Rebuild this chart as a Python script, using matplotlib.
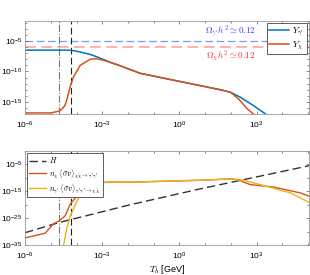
import numpy as np
import matplotlib
matplotlib.use('Agg')
import matplotlib.pyplot as plt
from matplotlib.ticker import FixedLocator, LogFormatterSciNotation, NullFormatter

plt.rcParams['mathtext.fontset'] = 'cm'
plt.rcParams['font.family'] = ['Liberation Sans', 'DejaVu Sans']

# --- top panel: yields (log10 T, log10 Y) ---
y_gp_logT = [-6.0, -5.0, -4.3, -4.1, -3.86, -3.47, -3.08, -2.69, -2.30, -1.53,
             -0.03, 1.59, 1.98, 2.36, 2.88, 3.34]
y_gp_logY = [-6.5, -6.5, -6.5, -6.6, -6.8, -7.2, -7.8, -8.5, -9.07, -10.3,
             -11.6, -13.0, -13.4, -14.2, -15.6, -16.95]

y_chi_logT = [-6.0, -5.0, -4.67, -4.55, -4.44, -4.35, -4.25, -4.12, -3.86, -3.47,
              -3.28, -3.0, -2.69, -2.30, -1.53, -0.03, 1.59, 1.98, 2.30, 2.63, 2.88]
y_chi_logY = [-16.8, -16.8, -16.5, -16.1, -15.5, -14.2, -12.5, -10.9, -9.0, -8.0,
              -7.9, -8.1, -8.5, -9.07, -10.3, -11.6, -13.0, -13.4, -14.5, -16.1, -17.0]

omega_gp = 1e-5
omega_chi = 9e-7
T_dashdot = 2.1e-5
T_dashed = 6.2e-5

# --- bottom panel: rates ---
H_logT = [-6.0, -4.67, -1.91, 0.81, 5.09]
H_logR = [-30.4, -26.6, -20.0, -14.1, -5.4]

nchi_logT = [-6.2, -5.22, -4.9, -4.67, -4.44, -4.25, -3.99, -3.73, -3.53, -3.28,
             -2.82, -1.91, 0.81, 1.98, 2.30, 2.50, 2.75, 3.14, 3.65, 4.70, 5.09]
nchi_logR = [-32.8, -30.6, -27.1, -26.0, -24.1, -19.8, -16.9, -14.4, -12.3, -11.9,
             -11.6, -11.6, -10.9, -10.4, -10.7, -11.6, -12.5, -12.9, -13.4, -15.6, -17.0]

ngp_logT = [-4.51, -4.38, -4.25, -4.05, -3.86, -3.6, -3.28, -2.82, -1.91, 0.81,
            1.98, 2.50, 3.41, 4.32, 5.09]
ngp_logR = [-35.5, -28.7, -24.4, -20.0, -16.3, -13.8, -12.3, -11.6, -11.6, -10.9,
            -10.4, -10.9, -13.2, -15.6, -19.4]

blue = '#0072BD'
orange = '#D95319'
yellow = '#EDB120'

fig = plt.figure(figsize=(3.1, 2.75), dpi=100)
ax1 = fig.add_axes([0.081, 0.585, 0.916, 0.339])
ax2 = fig.add_axes([0.081, 0.109, 0.916, 0.342])

xlim = (1e-6, 1.1e5)


def style_axis(ax, ylabels, yminor):
    ax.set_xscale('log')
    ax.set_yscale('log')
    ax.set_xlim(*xlim)
    ax.xaxis.set_major_locator(FixedLocator([1e-6, 1e-3, 1e0, 1e3]))
    ax.xaxis.set_minor_locator(FixedLocator([10.0 ** k for k in range(-6, 6)]))
    ax.yaxis.set_major_locator(FixedLocator(ylabels))
    ax.yaxis.set_minor_locator(FixedLocator(yminor))
    ax.xaxis.set_major_formatter(LogFormatterSciNotation())
    ax.yaxis.set_major_formatter(LogFormatterSciNotation())
    ax.xaxis.set_minor_formatter(NullFormatter())
    ax.yaxis.set_minor_formatter(NullFormatter())
    ax.tick_params(which='both', direction='in', top=True, right=True,
                   labelsize=6, color='#555555')
    ax.tick_params(axis='y', pad=2)
    ax.tick_params(axis='x', pad=4)
    ax.tick_params(which='major', length=2.5, width=0.5)
    ax.tick_params(which='minor', length=1.5, width=0.5)
    for s in ax.spines.values():
        s.set_color('#999999')
        s.set_linewidth(0.6)


# top
ax1.axhline(omega_gp, color='#8c8cff', ls=(0, (6, 3)), lw=0.9, zorder=1)
ax1.axhline(omega_chi, color='#ffaaaa', ls=(0, (6, 3)), lw=1.3, zorder=1)
ax1.axvline(T_dashdot, color='#777777', ls='-.', lw=0.8)
ax1.axvline(T_dashed, color='#222222', ls=(0, (6, 3)), lw=0.8)
ax1.plot(10.0 ** np.array(y_gp_logT), 10.0 ** np.array(y_gp_logY), color=blue,
         lw=1.1, label=r"$Y_{\gamma'}$")
ax1.plot(10.0 ** np.array(y_chi_logT), 10.0 ** np.array(y_chi_logY), color=orange,
         lw=1.1, label=r"$Y_{\chi}$")
ax1.text(9e2, omega_gp * 1.3, r"$\Omega_{\gamma'}h^2\simeq 0.12$", color='#3a3aff',
         fontsize=6.5, ha='right', va='bottom')
ax1.text(9e2, omega_chi / 1.6, r"$\Omega_{\chi}h^2\simeq 0.12$", color='#ff3030',
         fontsize=6.5, ha='right', va='top')
ax1.set_ylim(1e-17, 10 ** -1.7)
style_axis(ax1, [1e-15, 1e-10, 1e-5], [10.0 ** k for k in range(-17, -1)])
leg1 = ax1.legend(loc='upper right', fontsize=6.5, frameon=True, fancybox=False,
                  handlelength=2.2, borderpad=0.25, labelspacing=0.15,
                  handletextpad=0.4, borderaxespad=0.25, framealpha=1)
leg1.get_frame().set_edgecolor('#444444')
leg1.get_frame().set_linewidth(0.6)

# bottom
ax2.axvline(T_dashdot, color='#777777', ls='-.', lw=0.8)
ax2.axvline(T_dashed, color='#222222', ls=(0, (6, 3)), lw=0.8)
ax2.plot(10.0 ** np.array(H_logT), 10.0 ** np.array(H_logR), color='#333333',
         ls=(0, (6, 3)), lw=1.0, label=r"$H$")
ax2.plot(10.0 ** np.array(nchi_logT), 10.0 ** np.array(nchi_logR), color=orange,
         lw=1.0, label=r"$n_\chi\,\langle\sigma v\rangle_{\chi\bar\chi\to\gamma'\gamma'}$")
ax2.plot(10.0 ** np.array(ngp_logT), 10.0 ** np.array(ngp_logR), color=yellow,
         lw=1.0, label=r"$n_{\gamma'}\,\langle\sigma v\rangle_{\gamma'\gamma'\to\chi\bar\chi}$")
ax2.set_ylim(1e-35, 1e0)
style_axis(ax2, [1e-35, 1e-25, 1e-15, 1e-5], [10.0 ** k for k in range(-35, 1, 5)])
ax2.set_xlabel(r"$T_h$ [GeV]", fontsize=6.5, labelpad=1)
leg2 = ax2.legend(loc='upper left', fontsize=5.5, frameon=True, fancybox=False,
                  handlelength=2.2, borderpad=0.3, labelspacing=0.3,
                  handletextpad=0.4, borderaxespad=0.25, framealpha=1)
leg2.get_frame().set_edgecolor('#444444')
leg2.get_frame().set_linewidth(0.6)

fig.savefig('out.png', dpi=100)
